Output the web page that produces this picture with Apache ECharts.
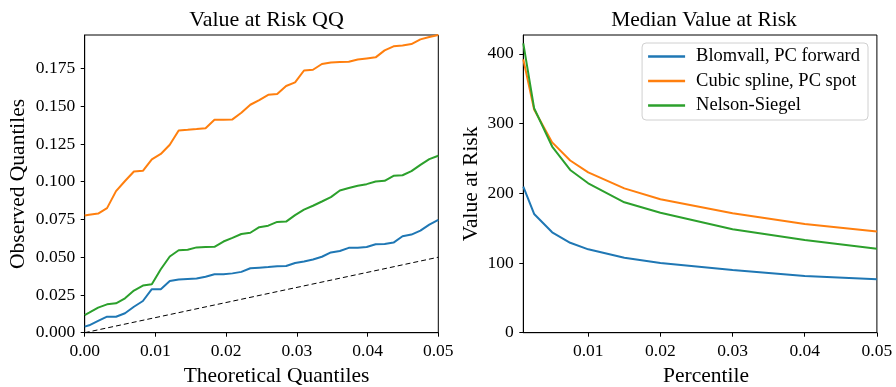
<!DOCTYPE html>
<html>
<head>
<meta charset="utf-8">
<script src="https://cdn.jsdelivr.net/npm/echarts@6/dist/echarts.min.js"></script>
<style>
  html, body { margin: 0; padding: 0; background: #fff; }
  #chart { width: 896px; height: 387px; }
</style>
</head>
<body>
<div id="chart"></div>
<script>
// ---- Left panel: VaR QQ plot ----
const qqTheoretical = [0, 0.00063, 0.00190, 0.00316, 0.00443, 0.00570, 0.00696, 0.00823, 0.00949, 0.01076,
  0.01203, 0.01329, 0.01456, 0.01582, 0.01709, 0.01835, 0.01962, 0.02089, 0.02215, 0.02342,
  0.02468, 0.02595, 0.02722, 0.02848, 0.02975, 0.03101, 0.03228, 0.03354, 0.03481, 0.03608,
  0.03734, 0.03861, 0.03987, 0.04114, 0.04241, 0.04367, 0.04494, 0.04620, 0.04747, 0.04873, 0.05000];
const qqBlomvall = [0.0040, 0.0049, 0.0078, 0.0106, 0.0106, 0.0129, 0.0172, 0.0210, 0.0288, 0.0288,
  0.0342, 0.0352, 0.0356, 0.0359, 0.0371, 0.0387, 0.0387, 0.0393, 0.0403, 0.0427,
  0.0431, 0.0435, 0.0440, 0.0442, 0.0462, 0.0472, 0.0485, 0.0503, 0.0532, 0.0541,
  0.0562, 0.0563, 0.0568, 0.0586, 0.0588, 0.0597, 0.0639, 0.0650, 0.0676, 0.0716, 0.0747];
const qqCubic = [0.0776, 0.0782, 0.0789, 0.0825, 0.0938, 0.1005, 0.1068, 0.1072, 0.1148, 0.1184,
  0.1245, 0.1340, 0.1344, 0.1349, 0.1355, 0.1410, 0.1411, 0.1413, 0.1457, 0.1510,
  0.1541, 0.1576, 0.1581, 0.1634, 0.1658, 0.1737, 0.1742, 0.1780, 0.1790, 0.1793,
  0.1795, 0.1810, 0.1817, 0.1824, 0.1870, 0.1897, 0.1903, 0.1912, 0.1943, 0.1959, 0.1972];
const qqNelson = [0.0117, 0.0133, 0.0166, 0.0188, 0.0195, 0.0228, 0.0279, 0.0312, 0.0321, 0.0420,
  0.0505, 0.0546, 0.0550, 0.0565, 0.0567, 0.0569, 0.0604, 0.0628, 0.0654, 0.0662,
  0.0699, 0.0709, 0.0734, 0.0736, 0.0779, 0.0815, 0.0841, 0.0869, 0.0898, 0.0942,
  0.0958, 0.0973, 0.0984, 0.1001, 0.1006, 0.1039, 0.1043, 0.1070, 0.1112, 0.1150, 0.1172];
const qqDiagonal = [[0, 0], [0.05, 0.05]];
const qqXTicks = [0, 0.01, 0.02, 0.03, 0.04, 0.05];
const qqYTicks = [0, 0.025, 0.05, 0.075, 0.1, 0.125, 0.15, 0.175];

// ---- Right panel: median VaR by percentile ----
const percentiles = [0.001, 0.0025, 0.005, 0.0075, 0.01, 0.015, 0.02, 0.03, 0.04, 0.05];
const varBlomvall = [209.5, 170.3, 144, 129, 119.6, 107.6, 100, 90, 81.3, 76.6];
const varCubic = [392, 320, 273, 247, 230, 207, 191.4, 171.3, 156, 145];
const varNelson = [415, 322, 267, 233.4, 214.3, 187, 172, 148.3, 133, 120.5];
const pctXTicks = [0.01, 0.02, 0.03, 0.04, 0.05];
const varYTicks = [0, 100, 200, 300, 400];

const seriesNames = ['Blomvall, PC forward', 'Cubic spline, PC spot', 'Nelson-Siegel'];
const colors = ['#1f77b4', '#ff7f0e', '#2ca02c'];

const FONT = '"Liberation Serif", "DejaVu Serif", serif';
const textBase = { fontFamily: FONT, color: '#000' };

function pairs(xs, ys) { return xs.map((x, i) => [x, ys[i]]); }

function axisCommon(ticks, fmt, margin) {
  return {
    type: 'value',
    axisLine: { show: true, onZero: false, lineStyle: { color: '#000', width: 1 } },
    axisTick: { show: true, inside: false, length: 4, customValues: ticks, lineStyle: { color: '#000', width: 1 } },
    axisLabel: { customValues: ticks, formatter: fmt, margin, fontSize: 17.5, ...textBase },
    splitLine: { show: false }
  };
}

const nameStyle = (padLeft) => ({ fontSize: 21.5, ...textBase, padding: [0, 0, 0, padLeft] });

const chart = echarts.init(document.getElementById('chart'), null, { renderer: 'canvas' });

const lineSeries = (name, color, data, xi, yi) => ({
  name, type: 'line', xAxisIndex: xi, yAxisIndex: yi, data,
  symbol: 'none', smooth: false, animation: false,
  lineStyle: { color, width: 2 }, itemStyle: { color }
});

// Panels are placed at fixed pixel boxes; labels must not push them around.
const panel = (left) => ({
  left, top: 35, width: 353.6, height: 297.7,
  containLabel: false, outerBoundsMode: 'none',
  show: true, borderColor: '#000', borderWidth: 1, backgroundColor: 'transparent'
});

chart.setOption({
  animation: false,
  backgroundColor: '#fff',
  title: [
    { text: 'Value at Risk QQ', left: 261.5, top: 4, textAlign: 'center',
      textStyle: { fontSize: 22, fontWeight: 'normal', ...textBase } },
    { text: 'Median Value at Risk', left: 699, top: 4, textAlign: 'center',
      textStyle: { fontSize: 21.5, fontWeight: 'normal', ...textBase } }
  ],
  grid: [panel(84.7), panel(523.3)],
  legend: {
    data: seriesNames,
    orient: 'vertical',
    right: 28, top: 43,
    icon: 'rect',
    itemWidth: 37, itemHeight: 2.5, itemGap: 5.5,
    padding: [4, 8, 5, 6],
    backgroundColor: 'rgba(255,255,255,0.8)',
    borderColor: '#d0d0d0', borderWidth: 1, borderRadius: 4,
    textStyle: { fontSize: 18.5, lineHeight: 19, ...textBase, padding: [0, 0, 0, 6] }
  },
  xAxis: [
    { ...axisCommon(qqXTicks, v => v.toFixed(2), 10), gridIndex: 0, min: 0, max: 0.05,
      name: 'Theoretical Quantiles', nameLocation: 'middle', nameGap: 27, nameTextStyle: nameStyle(30) },
    { ...axisCommon(pctXTicks, v => v.toFixed(2), 10), gridIndex: 1, min: 0.001, max: 0.05,
      name: 'Percentile', nameLocation: 'middle', nameGap: 27, nameTextStyle: nameStyle(12) }
  ],
  yAxis: [
    { ...axisCommon(qqYTicks, v => v.toFixed(3), 9.5), gridIndex: 0, min: 0, max: 0.1972,
      name: 'Observed Quantiles', nameLocation: 'middle', nameGap: 55, nameTextStyle: nameStyle(0) },
    { ...axisCommon(varYTicks, v => String(v), 9.5), gridIndex: 1, min: 0, max: 427,
      name: 'Value at Risk', nameLocation: 'middle', nameGap: 41, nameTextStyle: nameStyle(0) }
  ],
  series: [
    { type: 'line', xAxisIndex: 0, yAxisIndex: 0, data: qqDiagonal, symbol: 'none',
      lineStyle: { color: '#000', width: 1, type: [5, 3] }, silent: true },
    lineSeries(seriesNames[0], colors[0], pairs(qqTheoretical, qqBlomvall), 0, 0),
    lineSeries(seriesNames[1], colors[1], pairs(qqTheoretical, qqCubic), 0, 0),
    lineSeries(seriesNames[2], colors[2], pairs(qqTheoretical, qqNelson), 0, 0),
    lineSeries(seriesNames[0], colors[0], pairs(percentiles, varBlomvall), 1, 1),
    lineSeries(seriesNames[1], colors[1], pairs(percentiles, varCubic), 1, 1),
    lineSeries(seriesNames[2], colors[2], pairs(percentiles, varNelson), 1, 1)
  ]
});
</script>
</body>
</html>
